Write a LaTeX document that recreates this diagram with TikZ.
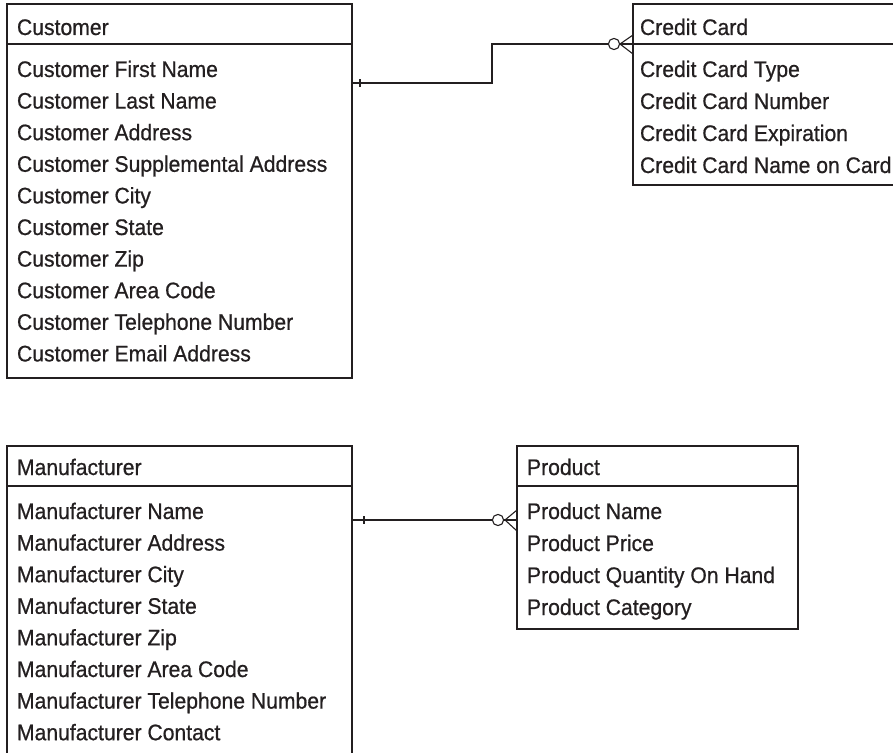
\documentclass[tikz,border=0pt]{standalone}
\usepackage{fontspec}
\setmainfont{Liberation Sans}[FakeStretch=0.94,FakeBold=0.7]
\definecolor{ink}{HTML}{231F20}
\tikzset{
  ent/.style={draw=ink, line width=1.1pt, anchor=north west, inner sep=0pt, outer sep=0pt},
  lbl/.style={anchor=base west, inner sep=0pt, outer sep=0pt, text=ink, font=\fontsize{22.5}{26}\selectfont},
  rel/.style={draw=ink, line width=1.1pt},
  ring/.style={draw=ink, line width=1.1pt, fill=white},
}
\begin{document}
\begin{tikzpicture}[x=1pt,y=-1pt]
\useasboundingbox (0,0) rectangle (893,752);
\begin{scope}
\clip (0,0) rectangle (893,752);
% Customer
\node[ent, minimum width=345pt, minimum height=374pt] (cust) at (7,4) {};
\draw[rel] (7,44) -- (352,44);
\node[lbl] (custh) at (17,35) {Customer};
\foreach \t [count=\i from 0] in {Customer First Name, Customer Last Name, Customer Address, Customer Supplemental Address, Customer City, Customer State, Customer Zip, Customer Area Code, Customer Telephone Number, Customer Email Address}
  \node[lbl] (cust\i) at (17,77+31.6*\i) {\t};
% Credit Card
\node[ent, minimum width=300pt, minimum height=181pt] (cc) at (633,4) {};
\draw[rel] (633,44) -- (933,44);
\node[lbl] (cch) at (640,35) {Credit Card};
\foreach \t [count=\i from 0] in {Credit Card Type, Credit Card Number, Credit Card Expiration, Credit Card Name on Card}
  \node[lbl] (cc\i) at (640,77+32*\i) {\t};
% Manufacturer
\node[ent, minimum width=345pt, minimum height=330pt] (man) at (7,446) {};
\draw[rel] (7,486) -- (352,486);
\node[lbl] (manh) at (17,475) {Manufacturer};
\foreach \t [count=\i from 0] in {Manufacturer Name, Manufacturer Address, Manufacturer City, Manufacturer State, Manufacturer Zip, Manufacturer Area Code, Manufacturer Telephone Number, Manufacturer Contact}
  \node[lbl] (man\i) at (17,519+31.6*\i) {\t};
% Product
\node[ent, minimum width=281pt, minimum height=183pt] (prod) at (517,446) {};
\draw[rel] (517,486) -- (798,486);
\node[lbl] (prodh) at (527,475) {Product};
\foreach \t [count=\i from 0] in {Product Name, Product Price, Product Quantity On Hand, Product Category}
  \node[lbl] (prod\i) at (527,519+32*\i) {\t};
% Connector Customer - Credit Card
\coordinate (a1) at (cust.north east |- 0,83);
\coordinate (b1) at (cc.north west |- 0,44);
\draw[rel] (a1) -- (492,83) -- (492,44) -- (b1);
\draw[rel] (360,79) -- (360,87);
\draw[rel] (633,35) -- (620,44) -- (633,54);
\draw[ring] (614,44) circle (5.6);
% Connector Manufacturer - Product
\coordinate (a2) at (man.north east |- 0,520);
\coordinate (b2) at (prod.north west |- 0,520);
\draw[rel] (a2) -- (b2);
\draw[rel] (364,516) -- (364,524);
\draw[rel] (517,510) -- (505,520) -- (517,531);
\draw[ring] (498,520) circle (5.6);
\end{scope}
\end{tikzpicture}
\end{document}
